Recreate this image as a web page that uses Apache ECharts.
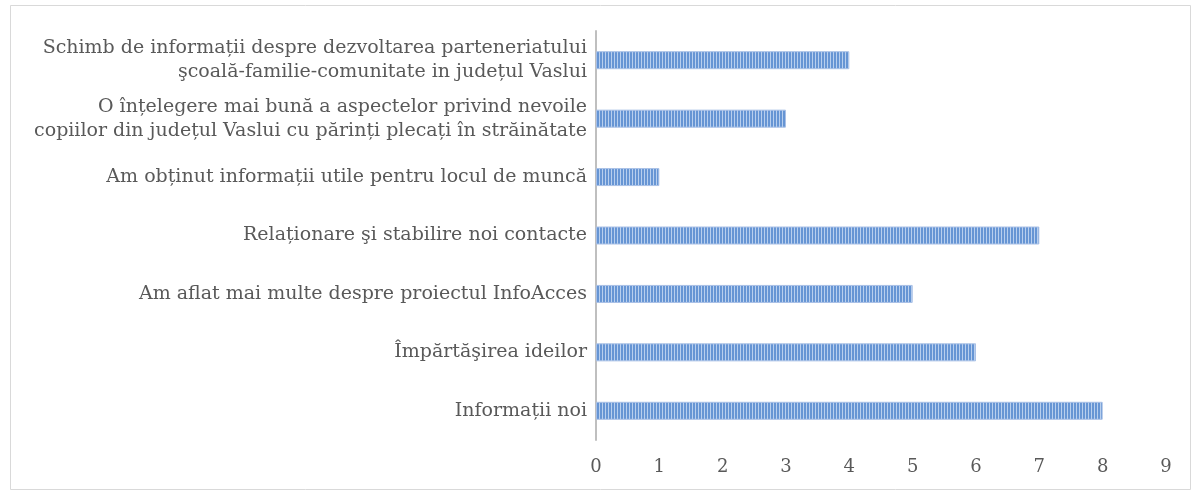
<!DOCTYPE html>
<html><head><meta charset="utf-8">
<script src="https://cdn.jsdelivr.net/npm/echarts@6/dist/echarts.min.js"></script>
<style>html,body{margin:0;padding:0;background:#fff}#c{width:1196px;height:491px}</style>
</head><body><div id="c"></div>
<script>
const categories = [
  "Informații noi",
  "Împărtăşirea ideilor",
  "Am aflat mai multe despre proiectul InfoAcces",
  "Relaționare şi stabilire noi contacte",
  "Am obținut informații utile pentru locul de muncă",
  "O înțelegere mai bună a aspectelor privind nevoile\ncopiilor din județul Vaslui cu părinți plecați în străinătate",
  "Schimb de informații despre dezvoltarea parteneriatului\nşcoală-familie-comunitate in județul Vaslui"
];
const values = [8, 6, 5, 7, 1, 3, 4];
const xTicks = [0, 1, 2, 3, 4, 5, 6, 7, 8, 9];

const cv = document.createElement('canvas');
cv.width = 3; cv.height = 4;
const cx = cv.getContext('2d');
cx.fillStyle = '#6695d4'; cx.fillRect(0, 0, 2, 4);
cx.fillStyle = '#b8cfee'; cx.fillRect(2, 0, 1, 4);

const chart = echarts.init(document.getElementById('c'));
const font = '"DejaVu Serif", serif';
chart.setOption({
  backgroundColor: '#fff',
  animation: false,
  graphic: [{ type: 'rect', shape: { x: 10.5, y: 5.5, width: 1180, height: 484 }, style: { fill: 'none', stroke: '#d9d9d9', lineWidth: 1 } }],
  grid: { left: 596, right: 30, top: 31, bottom: 51, containLabel: false },
  xAxis: {
    type: 'value', min: xTicks[0], max: xTicks[xTicks.length - 1], interval: 1,
    axisLine: { show: false }, axisTick: { show: false }, splitLine: { show: false },
    axisLabel: { color: '#595959', fontFamily: font, fontSize: 18, margin: 18 }
  },
  yAxis: {
    type: 'category', data: categories,
    axisLine: { show: true, lineStyle: { color: '#bfbfbf', width: 2 } },
    axisTick: { show: false },
    axisLabel: { color: '#595959', fontFamily: font, fontSize: 19, lineHeight: 24, margin: 9, align: 'right', padding: [5, 0, 0, 0] }
  },
  series: [{
    type: 'bar', data: values, barWidth: 18,
    itemStyle: { color: { image: cv, repeat: 'repeat' }, borderColor: '#a9c0e6', borderWidth: 1 }
  }]
});
</script></body></html>
